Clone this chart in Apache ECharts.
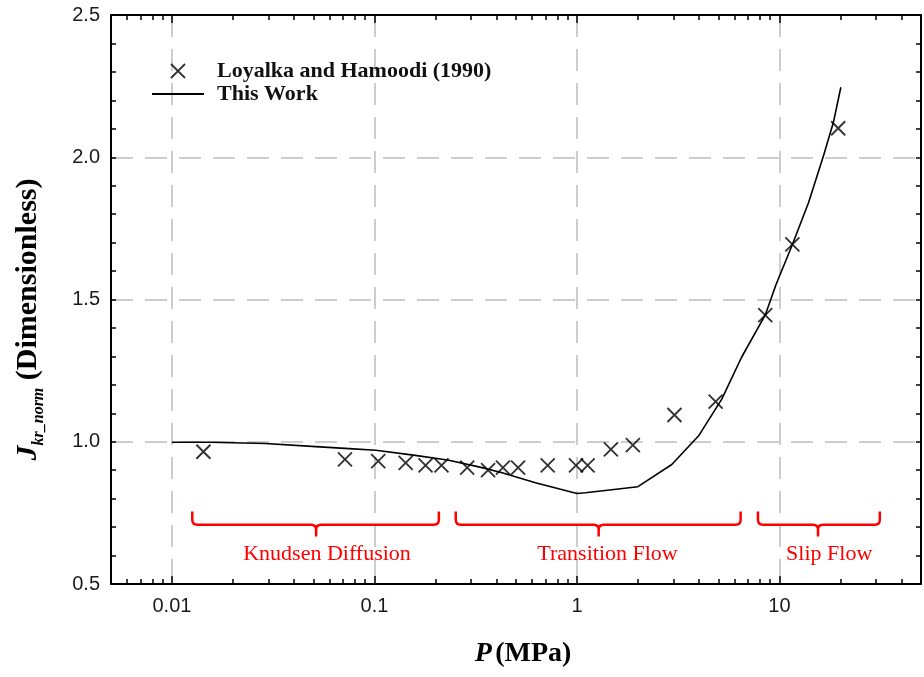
<!DOCTYPE html>
<html>
<head>
<meta charset="utf-8">
<script src="https://cdn.jsdelivr.net/npm/echarts@6/dist/echarts.min.js"></script>
<style>
html,body{margin:0;padding:0;background:#fff;}
#chart{width:924px;height:677px;}
</style>
</head>
<body>
<div id="chart"></div>
<script>
// ---- data ----
const scatterP = [0.0143, 0.0715, 0.1044, 0.1426, 0.1788, 0.2143, 0.287, 0.364, 0.431, 0.512, 0.717, 0.989, 1.129, 1.471, 1.888, 3.03, 4.84, 8.51, 11.58, 19.5];
const scatterJ = [0.965, 0.938, 0.932, 0.926, 0.917, 0.917, 0.909, 0.900, 0.909, 0.909, 0.917, 0.917, 0.917, 0.973, 0.988, 1.094, 1.141, 1.445, 1.694, 2.102];
const modelP = [0.01, 0.0156, 0.029, 0.0513, 0.075, 0.1016, 0.159, 0.233, 0.34, 0.427, 0.624, 1.0, 1.1, 2.0, 2.94, 3.98, 5.19, 6.5, 8.5, 9.6, 11.6, 13.9, 16.5, 18.5, 20.1];
const modelJ = [0.998, 0.998, 0.994, 0.983, 0.976, 0.970, 0.952, 0.935, 0.909, 0.891, 0.856, 0.818, 0.821, 0.842, 0.920, 1.020, 1.150, 1.297, 1.445, 1.551, 1.694, 1.839, 2.005, 2.125, 2.246];
const xMajorTicks = [0.01, 0.1, 1, 10];
const xMinorTicks = [0.006, 0.007, 0.008, 0.009, 0.02, 0.03, 0.04, 0.05, 0.06, 0.07, 0.08, 0.09,
  0.2, 0.3, 0.4, 0.5, 0.6, 0.7, 0.8, 0.9, 2, 3, 4, 5, 6, 7, 8, 9, 20, 30, 40];
const regionNames = ['Knudsen Diffusion', 'Transition Flow', 'Slip Flow'];
const regionStart = [0.0126, 0.252, 7.83];
const regionEnd = [0.208, 6.43, 31.3];
const regionMid = [0.0515, 1.28, 15.5];
const regionLabelP = [0.0583, 1.416, 17.6];
const seriesNames = ['Loyalka and Hamoodi (1990)', 'This Work'];

// ---- styling / layout ----
const bracketLevel = 0.708, bracketTop = 0.755, bracketTip = 0.667, labelLevel = 0.606;
const xPath = 'path://M0,0L10,10M10,0L0,10';
const serif = '"Liberation Serif","Times New Roman",serif';
const sans = '"Liberation Sans",Arial,sans-serif';
const XMIN = 0.005, XMAX = 50;

const chart = echarts.init(document.getElementById('chart'), null, {renderer: 'canvas'});

function xAxisDef(pos, values, len, withLabels, withLine, withSplit) {
  return {
    type: 'log', logBase: 10, min: XMIN, max: XMAX, position: pos, gridIndex: 0,
    axisLine: {show: withLine, onZero: false, lineStyle: {color: '#000', width: 2}},
    axisTick: {show: true, inside: true, length: len, customValues: values, lineStyle: {color: '#000', width: 1.5}},
    axisLabel: withLabels ? {
      show: true, customValues: values, margin: 12, color: '#1a1a1a',
      fontFamily: sans, fontSize: 20,
      formatter: v => String(v)
    } : {show: false},
    minorTick: {show: false},
    splitLine: withSplit ? {show: true, lineStyle: {color: '#bdbdbd', width: 1.5, type: [22, 12]}} : {show: false},
    name: withLabels ? '{i|P} {b|(MPa)}' : '',
    nameLocation: 'middle', nameGap: 56,
    nameTextStyle: {
      padding: [0, 0, 0, 14],
      rich: {
        i: {fontFamily: serif, fontStyle: 'italic', fontWeight: 'bold', fontSize: 28, color: '#000'},
        b: {fontFamily: serif, fontWeight: 'bold', fontSize: 28, color: '#000'}
      }
    }
  };
}

function yAxisDef(pos, withLabels) {
  return {
    type: 'value', min: 0.5, max: 2.5, interval: 0.5, position: pos, gridIndex: 0,
    axisLine: {show: true, onZero: false, lineStyle: {color: '#000', width: 2}},
    axisTick: {show: true, inside: true, length: 5, lineStyle: {color: '#000', width: 1.5}},
    minorTick: {show: true, splitNumber: 5, length: 5, lineStyle: {color: '#000', width: 1.5}},
    axisLabel: withLabels ? {
      show: true, margin: 11, color: '#1a1a1a', fontFamily: sans, fontSize: 20,
      formatter: v => v.toFixed(1)
    } : {show: false},
    splitLine: withLabels ? {show: true, lineStyle: {color: '#bdbdbd', width: 1.5, type: [22, 12]}} : {show: false},
    name: withLabels ? '{j|J}{s|kr_norm}{n| (Dimensionless)}' : '',
    nameLocation: 'middle', nameRotate: 90, nameGap: 64,
    nameTextStyle: {
      padding: [0, 40, 0, 0],
      rich: {
        j: {fontFamily: serif, fontStyle: 'italic', fontWeight: 'bold', fontSize: 30, color: '#000', verticalAlign: 'top', lineHeight: 34},
        s: {fontFamily: serif, fontStyle: 'italic', fontWeight: 'bold', fontSize: 16, color: '#000', verticalAlign: 'bottom', lineHeight: 16},
        n: {fontFamily: serif, fontWeight: 'bold', fontSize: 30, color: '#000', verticalAlign: 'top', lineHeight: 34}
      }
    }
  };
}

const option = {
  animation: false,
  backgroundColor: '#fff',
  grid: {left: 111, right: 3, top: 15, bottom: 93, containLabel: false, outerBoundsMode: 'none'},
  legend: {
    orient: 'vertical', left: 151, top: 59.5, padding: 0,
    itemWidth: 52, itemHeight: 14, itemGap: 0,
    symbolKeepAspect: true,
    textStyle: {fontFamily: serif, fontWeight: 'bold', fontSize: 22, color: '#111', lineHeight: 23, padding: [0, 0, 0, 8]},
    data: [
      {name: seriesNames[0], icon: xPath, itemStyle: {color: 'none', borderColor: '#000', borderWidth: 1.8}},
      {name: seriesNames[1], itemStyle: {color: 'transparent', borderColor: 'transparent', borderWidth: 0, opacity: 0}}
    ]
  },
  xAxis: [
    xAxisDef('bottom', xMajorTicks, 8, true, true, true),
    xAxisDef('bottom', xMinorTicks, 5, false, false, false),
    xAxisDef('top', xMajorTicks, 8, false, true, false),
    xAxisDef('top', xMinorTicks, 5, false, false, false)
  ],
  yAxis: [yAxisDef('left', true), yAxisDef('right', false)],
  series: [
    {
      name: seriesNames[1], type: 'line', xAxisIndex: 0, yAxisIndex: 0,
      data: modelP.map((p, i) => [p, modelJ[i]]),
      symbol: 'none', smooth: false,
      lineStyle: {color: '#000', width: 1.6},
      itemStyle: {color: '#000'}, z: 3
    },
    {
      name: seriesNames[0], type: 'scatter', xAxisIndex: 0, yAxisIndex: 0,
      data: scatterP.map((p, i) => [p, scatterJ[i]]),
      symbol: xPath, symbolSize: 14,
      itemStyle: {color: 'none', borderColor: '#000', borderWidth: 1.9}, z: 4
    },
    {
      name: 'regions', type: 'custom', xAxisIndex: 0, yAxisIndex: 0,
      data: regionNames.map((n, i) => [regionStart[i], regionEnd[i], regionMid[i], regionLabelP[i], bracketLevel]),
      encode: {x: [0, 1, 2, 3], y: 4},
      silent: true, z: 5,
      renderItem: function (params, api) {
        const i = params.dataIndex;
        const a = api.coord([api.value(0), bracketLevel]);
        const b = api.coord([api.value(1), bracketLevel]);
        const m = api.coord([api.value(2), bracketLevel]);
        const yT = api.coord([api.value(0), bracketTop])[1];
        const yTip = api.coord([api.value(0), bracketTip])[1];
        const lab = api.coord([api.value(3), labelLevel]);
        const yL = a[1], r = 5;
        const x0 = a[0], x1 = b[0], xm = m[0];
        const d = 'M' + x0 + ' ' + yT + ' L' + x0 + ' ' + (yL - r) + ' Q' + x0 + ' ' + yL + ' ' + (x0 + r) + ' ' + yL +
          ' L' + (xm - r) + ' ' + yL + ' Q' + xm + ' ' + yL + ' ' + xm + ' ' + (yL + r) + ' L' + xm + ' ' + yTip +
          ' M' + xm + ' ' + (yL + r) + ' Q' + xm + ' ' + yL + ' ' + (xm + r) + ' ' + yL +
          ' L' + (x1 - r) + ' ' + yL + ' Q' + x1 + ' ' + yL + ' ' + x1 + ' ' + (yL - r) + ' L' + x1 + ' ' + yT;
        return {
          type: 'group',
          children: [
            {type: 'path', shape: {pathData: d}, style: {stroke: '#ff0000', lineWidth: 2.5, fill: null}},
            {type: 'text', x: lab[0], y: lab[1], style: {
              text: regionNames[i], fill: '#ff0000', font: '22px ' + serif,
              align: 'center', verticalAlign: 'middle'
            }}
          ]
        };
      }
    }
  ]
};
chart.setOption(option);
</script>
</body>
</html>
